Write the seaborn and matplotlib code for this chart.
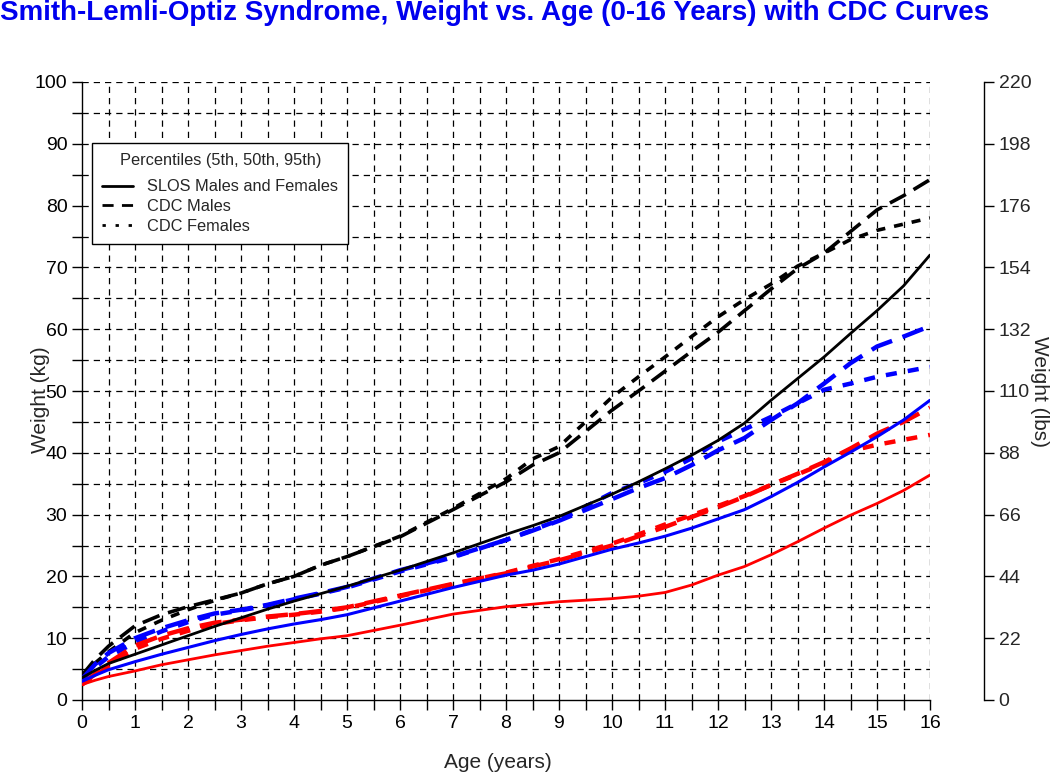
import matplotlib
matplotlib.use("Agg")
import matplotlib.pyplot as plt
import seaborn as sns
import numpy as np
from matplotlib.lines import Line2D
from matplotlib.ticker import MultipleLocator

sns.set_style("white")
plt.rcParams['font.family'] = ['Liberation Sans', 'DejaVu Sans']

title = "Smith-Lemli-Optiz Syndrome, Weight vs. Age (0-16 Years) with CDC Curves"

ages = [0, 0.25, 0.5, 1, 1.5, 2, 2.5, 3, 3.5, 4, 4.5, 5, 6, 7, 8, 8.5, 9,
        10, 10.5, 11, 11.5, 12, 12.5, 13, 13.5, 14, 14.5, 15, 15.5, 16]

# SLOS males and females (solid)
slos_p5 = [2.5, 3.2, 3.8, 4.7, 5.7, 6.5, 7.3, 8.0, 8.7, 9.3, 9.9, 10.4, 12.1, 13.9, 15.1, 15.5, 15.9,
           16.4, 16.8, 17.4, 18.6, 20.2, 21.6, 23.5, 25.6, 27.8, 29.9, 31.8, 33.9, 36.4]
slos_p50 = [3.0, 4.0, 4.9, 6.2, 7.4, 8.5, 9.6, 10.6, 11.5, 12.3, 13.0, 13.8, 16.0, 18.2, 20.2, 21.0, 22.0,
            24.4, 25.4, 26.5, 27.8, 29.3, 30.8, 32.9, 35.2, 37.7, 40.1, 42.6, 45.3, 48.5]
slos_p95 = [3.6, 4.8, 5.9, 7.4, 8.9, 10.4, 11.9, 13.3, 14.7, 16.0, 17.2, 18.4, 21.0, 23.8, 26.8, 28.2, 29.7,
            33.3, 35.3, 37.4, 39.6, 42.0, 44.8, 48.5, 52.0, 55.5, 59.3, 63.0, 67.0, 72.0]

# CDC males (dashed)
cdc_m_p5 = [2.6, 4.2, 6.0, 8.8, 10.4, 11.6, 12.5, 13.0, 13.5, 13.9, 14.4, 15.0, 16.9, 18.8, 20.5, 21.6, 22.6,
            25.0, 26.5, 28.0, 29.6, 31.2, 32.9, 34.8, 36.6, 38.5, 40.7, 43.1, 45.0, 47.3]
cdc_m_p50 = [3.4, 5.8, 7.6, 10.0, 11.6, 12.9, 14.0, 14.6, 15.4, 16.4, 17.3, 18.3, 21.0, 23.2, 25.9, 27.4, 29.0,
             32.5, 34.3, 35.9, 38.0, 40.4, 42.4, 45.3, 48.0, 51.2, 54.5, 57.2, 58.8, 60.5]
cdc_m_p95 = [4.0, 6.6, 8.7, 12.0, 13.8, 15.1, 16.2, 17.3, 18.8, 20.0, 21.8, 23.2, 26.4, 30.8, 35.3, 38.0, 40.0,
             46.9, 50.0, 53.2, 56.4, 59.5, 63.0, 66.5, 69.8, 72.3, 75.8, 79.3, 81.6, 84.2]

# CDC females (dotted)
cdc_f_p5 = [2.5, 3.9, 5.5, 8.3, 9.9, 11.2, 12.3, 12.9, 13.4, 13.8, 14.3, 14.9, 16.8, 18.7, 20.6, 21.7, 22.8,
            25.3, 26.8, 28.4, 29.9, 31.4, 33.0, 34.8, 36.5, 38.3, 40.3, 41.3, 42.1, 42.9]
cdc_f_p50 = [3.3, 5.3, 7.0, 9.3, 11.1, 12.6, 13.8, 14.5, 15.3, 16.3, 17.2, 18.2, 20.8, 23.1, 25.9, 27.5, 29.1,
             33.5, 35.1, 36.9, 39.1, 41.8, 43.8, 45.8, 48.0, 50.2, 51.2, 52.3, 53.1, 53.9]
cdc_f_p95 = [3.8, 6.0, 7.8, 10.9, 12.9, 14.6, 16.1, 17.3, 18.8, 20.0, 21.8, 23.2, 26.5, 31.0, 35.8, 39.0, 41.0,
             49.0, 52.3, 55.5, 58.8, 62.0, 64.8, 67.3, 70.2, 72.3, 74.5, 76.0, 77.0, 78.0]

legend_title = "Percentiles (5th, 50th, 95th)"
legend_labels = ["SLOS Males and Females", "CDC Males", "CDC Females"]
xlabel = "Age (years)"
ylabel_left = "Weight (kg)"
ylabel_right = "Weight (lbs)"
lbs_ticks = [0, 22, 44, 66, 88, 110, 132, 154, 176, 198, 220]

fig = plt.figure(figsize=(10.5, 7.74), dpi=100)
ax = fig.add_axes([82/1050, 74/774, 848/1050, 618/774])

grid_kw = dict(color='black', lw=0.9, linestyle=(0, (5, 4)), zorder=1)
for xv in np.arange(0.5, 16.01, 0.5):
    ax.axvline(xv, **grid_kw)
for yv in np.arange(5, 100.01, 5):
    ax.axhline(yv, **grid_kw)

male_ls = (0, (5, 2.5))
female_ls = (0, (2.5, 2.5))
series = [
    (cdc_m_p95, 'black', male_ls, 2.6),
    (cdc_f_p95, 'black', female_ls, 2.6),
    (cdc_m_p50, 'blue', male_ls, 3.2),
    (cdc_f_p50, 'blue', female_ls, 3.2),
    (cdc_m_p5, 'red', male_ls, 3.2),
    (cdc_f_p5, 'red', female_ls, 3.2),
    (slos_p95, 'black', '-', 2.0),
    (slos_p50, 'blue', '-', 2.2),
    (slos_p5, 'red', '-', 2.0),
]
for vals, col, ls, lw in series:
    sns.lineplot(x=ages, y=vals, ax=ax, color=col, linestyle=ls, lw=lw, zorder=3)

ax.set_xlim(0, 16)
ax.set_ylim(0, 100)
ax.xaxis.set_major_locator(MultipleLocator(1))
ax.xaxis.set_minor_locator(MultipleLocator(0.5))
ax.yaxis.set_major_locator(MultipleLocator(10))
ax.yaxis.set_minor_locator(MultipleLocator(5))
ax.tick_params(axis='both', which='both', direction='out', length=7, width=1, color='black',
               labelsize=14, labelcolor='black')
ax.tick_params(axis='both', which='both', bottom=True, left=True)
ax.tick_params(axis='x', pad=4)
for s in ['top', 'right']:
    ax.spines[s].set_visible(False)
for s in ['left', 'bottom']:
    ax.spines[s].set_color('black')
    ax.spines[s].set_linewidth(1)
ax.set_xlabel("")
ax.set_ylabel("")

ax2 = ax.twinx()
ax2.set_ylim(0, 220)
ax2.set_yticks(lbs_ticks)
for s in ['top', 'left', 'bottom']:
    ax2.spines[s].set_visible(False)
ax2.spines['right'].set_position(('outward', 54 * 0.72))
ax2.spines['right'].set_color('black')
ax2.spines['right'].set_linewidth(1)
ax2.tick_params(axis='y', direction='out', length=7, width=1, color='black', labelsize=14, right=True)
ax2.set_ylabel("")

handles = [Line2D([], [], color='black', lw=2, linestyle='-'),
           Line2D([], [], color='black', lw=2, linestyle=(0, (4, 3))),
           Line2D([], [], color='black', lw=2, linestyle=(0, (1.2, 3.5)))]
leg = ax.legend(handles, legend_labels, title=legend_title, loc='upper left',
                bbox_to_anchor=(10/848, 1 - 61/618), borderaxespad=0,
                fontsize=11.8, title_fontsize=11.8,
                frameon=True, fancybox=False, edgecolor='black', framealpha=1,
                handlelength=1.9, handletextpad=0.85, borderpad=0.62, labelspacing=0.3)
leg.get_frame().set_linewidth(1)
leg.set_zorder(5)
leg._legend_box.sep = 8

fig.text(0.0, 1 - 13/774, title, color='#0000EE', fontsize=20, fontweight='bold',
         ha='left', va='center')
fig.text(498/1050, 1 - 762/774, xlabel, fontsize=15, ha='center', va='center')
fig.text(40/1050, 1 - 400/774, ylabel_left, fontsize=15, rotation=90, ha='center', va='center')
fig.text(1040/1050, 1 - 392/774, ylabel_right, fontsize=15, rotation=270, ha='center', va='center')

fig.savefig("out.png", dpi=100)
